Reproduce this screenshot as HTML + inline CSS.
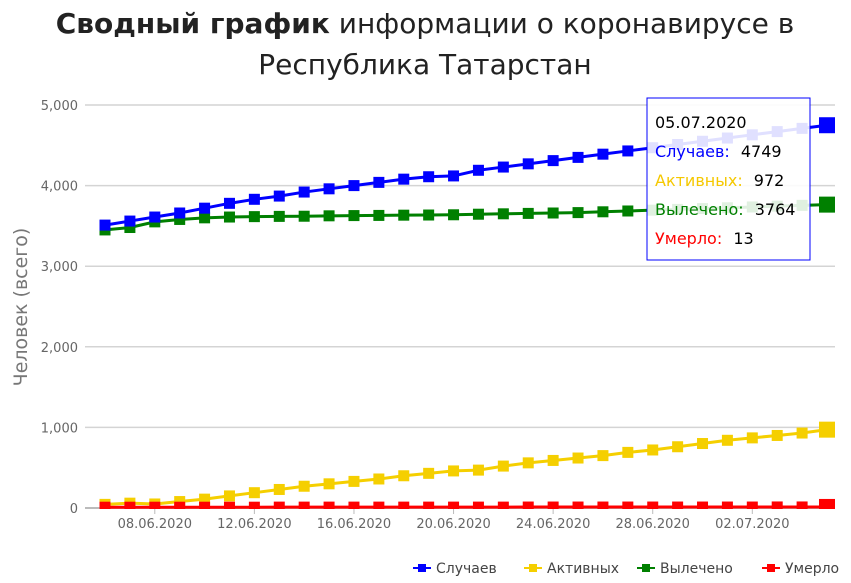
<!DOCTYPE html>
<html><head><meta charset="utf-8">
<style>
html,body{margin:0;padding:0;background:#fff;}
body{width:851px;height:579px;overflow:hidden;font-family:"DejaVu Sans","Liberation Sans",sans-serif;}
</style></head>
<body>
<svg id="chart" width="851" height="579" xmlns="http://www.w3.org/2000/svg" font-family="'DejaVu Sans','Liberation Sans',sans-serif">
<defs><clipPath id="plot"><rect x="85" y="95" width="760" height="414"/></clipPath></defs>
<text x="425" y="33" text-anchor="middle" font-size="28" fill="#222"><tspan font-weight="bold">Сводный график</tspan> информации о коронавирусе в</text>
<text x="425" y="74" text-anchor="middle" font-size="28" fill="#222">Республика Татарстан</text>
<text transform="translate(27,307) rotate(-90)" text-anchor="middle" font-size="19" fill="#777">Человек (всего)</text>
<g id="grid"></g><g id="series" clip-path="url(#plot)"></g>
<g id="tooltip">
<rect x="647" y="98" width="163" height="162" fill="rgba(255,255,255,0.88)" stroke="#0000ff" stroke-width="1"/>
<text x="655" y="128" font-size="16" fill="#000">05.07.2020</text>
<text x="655" y="157" font-size="16" fill="#0000ff">Случаев: <tspan fill="#000" dx="6">4749</tspan></text>
<text x="655" y="186" font-size="16" fill="#f5c800">Активных: <tspan fill="#000" dx="6">972</tspan></text>
<text x="655" y="215" font-size="16" fill="#008000">Вылечено: <tspan fill="#000" dx="6">3764</tspan></text>
<text x="655" y="244" font-size="16" fill="#ff0000">Умерло: <tspan fill="#000" dx="6">13</tspan></text>
</g>
<g id="legend"></g>
</svg>
<script>
const startDay = 6; // 06.06.2020
const cases = [3510,3560,3610,3660,3720,3780,3830,3870,3920,3960,4000,4040,4080,4110,4120,4190,4230,4270,4310,4350,4390,4430,4470,4510,4550,4590,4630,4670,4710,4749];
const active = [45,60,50,80,110,150,190,230,270,300,330,360,400,430,460,470,520,560,590,620,650,690,720,760,800,840,870,900,930,972];
const recovered = [3450,3480,3550,3580,3600,3610,3615,3618,3620,3625,3628,3630,3633,3635,3638,3645,3650,3655,3660,3665,3675,3685,3695,3705,3715,3725,3735,3745,3755,3764];
const deaths = [10,10,10,10,10,10,10,11,11,11,11,11,11,11,11,11,11,12,12,12,12,12,12,12,12,12,12,13,13,13];
const yTicks = [0,1000,2000,3000,4000,5000];
const yTickLabels = ["0","1,000","2,000","3,000","4,000","5,000"];
const xTickIdx = [2,6,10,14,18,22,26];
const xTickLabels = ["08.06.2020","12.06.2020","16.06.2020","20.06.2020","24.06.2020","28.06.2020","02.07.2020"];
const seriesNames = ["Случаев","Активных","Вылечено","Умерло"];
const colors = ["#0000ff","#f5cf00","#008000","#ff0000"];

const NS="http://www.w3.org/2000/svg";
const x0=105, dx=(827-105)/29;
const X=i=>x0+i*dx;
const Y=v=>508-v*(508-105)/5000;
function mk(tag,attrs,parent){const e=document.createElementNS(NS,tag);for(const k in attrs)e.setAttribute(k,attrs[k]);parent.appendChild(e);return e;}
const grid=document.getElementById('grid');
yTicks.forEach((t,i)=>{
  const l=mk('line',{x1:85,x2:835,y1:Y(t),y2:Y(t),stroke:i==0?'#bbb':'#d4d4d4','stroke-width':i==0?2:1.5},grid);
  
  
  const tx=mk('text',{x:78,y:Y(t)+5,'text-anchor':'end','font-size':13,fill:'#666'},grid);
  tx.textContent=yTickLabels[i];
  
  
});
xTickIdx.forEach((d,i)=>{
  const l=mk('line',{x1:X(d),x2:X(d),y1:508,y2:514,stroke:'#bbb','stroke-width':1},grid);
  
  
  const tx=mk('text',{x:X(d),y:528,'text-anchor':'middle','font-size':13,fill:'#666'},grid);
  tx.textContent=xTickLabels[i];
  
  
});
const sg=document.getElementById('series');
[active,deaths,recovered,cases].forEach((arr)=>{
  const si=[cases,active,recovered,deaths].indexOf(arr);
  const g=mk('g',{},sg);
  
  
  const p=mk('polyline',{points:arr.map((v,i)=>X(i)+','+Y(v)).join(' '),fill:'none',stroke:colors[si],'stroke-width':3},g);
  
  
  arr.forEach((v,i)=>{
    const s=i==arr.length-1?16:11;
    const r=mk('rect',{x:X(i)-s/2,y:Y(v)-s/2,width:s,height:s,fill:colors[si]},g);
    
    
  });
});
const lg=document.getElementById('legend');
const lx=[413,524,637,762];
seriesNames.forEach((n,i)=>{
  const g=mk('g',{},lg);
  
  
  mk('line',{x1:lx[i],x2:lx[i]+18,y1:568,y2:568,stroke:colors[i],'stroke-width':2},g);
  mk('rect',{x:lx[i]+5,y:564,width:8,height:8,fill:colors[i]},g);
  const t=mk('text',{x:lx[i]+23,y:573,'font-size':14,fill:'#444'},g);
  t.textContent=n;
});
</script>
</body></html>
